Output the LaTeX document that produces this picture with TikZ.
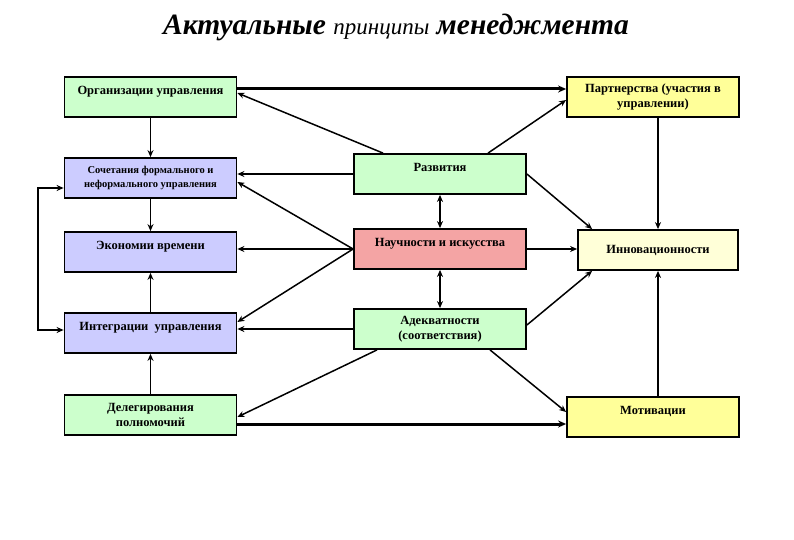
\documentclass[tikz,border=0pt]{standalone}
\usepackage{fontspec}
\setmainfont{Liberation Serif}
\usetikzlibrary{arrows.meta}

\definecolor{boxgreen}{HTML}{CCFFCC}
\definecolor{boxblue}{HTML}{CCCCFF}
\definecolor{boxpink}{HTML}{F4A4A4}
\definecolor{boxyellow}{HTML}{FFFF99}
\definecolor{boxcream}{HTML}{FFFFD8}

\tikzset{
  princ/.style={draw, line width=1.8pt, minimum width=172pt, minimum height=40pt,
    align=center, inner sep=2pt, font=\bfseries\fontsize{12.5}{15}\selectfont},
  toptext/.style={text height=12.5pt, text depth=17.5pt},
  link/.style={line width=1.5pt, -{Stealth[length=7pt,width=6pt]}},
  both/.style={line width=1.5pt, {Stealth[length=7pt,width=6pt]}-{Stealth[length=7pt,width=6pt]}},
  heavy/.style={line width=3pt, -{Stealth[length=8pt,width=7pt]}}
}

\begin{document}
\begin{tikzpicture}[x=1pt, y=-1pt]

\useasboundingbox (0,0) rectangle (794,540);

% left column
\node[princ, toptext, fill=boxgreen] (org) at (150.5,97) {Организации управления};
\node[princ, fill=boxblue, font=\bfseries\fontsize{10.5}{14}\selectfont] (soch) at (150.5,178)
    {Сочетания формального и\\неформального управления};
\node[princ, toptext, fill=boxblue] (econ) at (150.5,252) {Экономии времени};
\node[princ, toptext, fill=boxblue] (integ) at (150.5,333) {Интеграции\ \ управления};
\node[princ, fill=boxgreen] (deleg) at (150.5,415) {Делегирования\\полномочий};

% middle column
\node[princ, toptext, fill=boxgreen] (razv) at (440,174) {Развития};
\node[princ, toptext, fill=boxpink] (nauch) at (440,249) {Научности и искусства};
\node[princ, fill=boxgreen] (adekv) at (440,329) {Адекватности\\(соответствия)};

% right column
\node[princ, fill=boxyellow] (partn) at (653,97) {Партнерства (участия в\\управлении)};
\node[princ, fill=boxcream, minimum width=160pt] (innov) at (658,250) {Инновационности};
\node[princ, toptext, fill=boxyellow] (motiv) at (653,417) {Мотивации};

\coordinate (ltop) at (38,188);
\coordinate (lbot) at (38,330);

% left column links
\draw[link] (org.south) -- (soch.north);
\draw[link] (soch.south) -- (econ.north);
\draw[link] (integ.north) -- (econ.south);
\draw[link] (deleg.north) -- (integ.south);
\draw[both] ([yshift=-10pt]soch.west) -- (ltop) -- (lbot) -- ([yshift=3pt]integ.west);

% from the middle to the left
\draw[link] ([xshift=-57pt]razv.north) -- ([yshift=4pt]org.east);
\draw[link] (razv.west) -- (razv.west -| soch.east);
\draw[link] (nauch.west) -- ([yshift=-4pt]soch.east);
\draw[link] (nauch.west) -- (nauch.west -| econ.east);
\draw[link] (nauch.west) -- ([yshift=11pt]integ.east);
\draw[link] (adekv.west) -- (adekv.west -| integ.east);
\draw[link] ([xshift=-63pt]adekv.south) -- ([yshift=-2pt]deleg.east);

% middle column
\draw[both] (razv.south) -- (nauch.north);
\draw[both] (nauch.south) -- (adekv.north);

% to the right
\draw[heavy] ([yshift=8pt]org.east) -- ([yshift=8pt]partn.west);
\draw[link] ([xshift=48pt]razv.north) -- ([yshift=-3pt]partn.west);
\draw[link] (razv.east) -- ([xshift=15pt]innov.north west);
\draw[link] (nauch.east) -- (nauch.east -| innov.west);
\draw[link] ([yshift=4pt]adekv.east) -- ([xshift=15pt]innov.south west);
\draw[link] (partn.south -| innov.north) -- (innov.north);
\draw[link] (motiv.north -| innov.south) -- (innov.south);
\draw[link] ([xshift=50pt]adekv.south) -- ([yshift=5pt]motiv.west);
\draw[heavy] ([yshift=-9pt]deleg.east) -- ([yshift=-7pt]motiv.west);

% title
\node[anchor=base, font=\bfseries\itshape\fontsize{29.5}{32}\selectfont] (title) at (396,35)
    {Актуальные {\mdseries\fontsize{23}{26}\selectfont принципы} менеджмента};

\end{tikzpicture}
\end{document}
